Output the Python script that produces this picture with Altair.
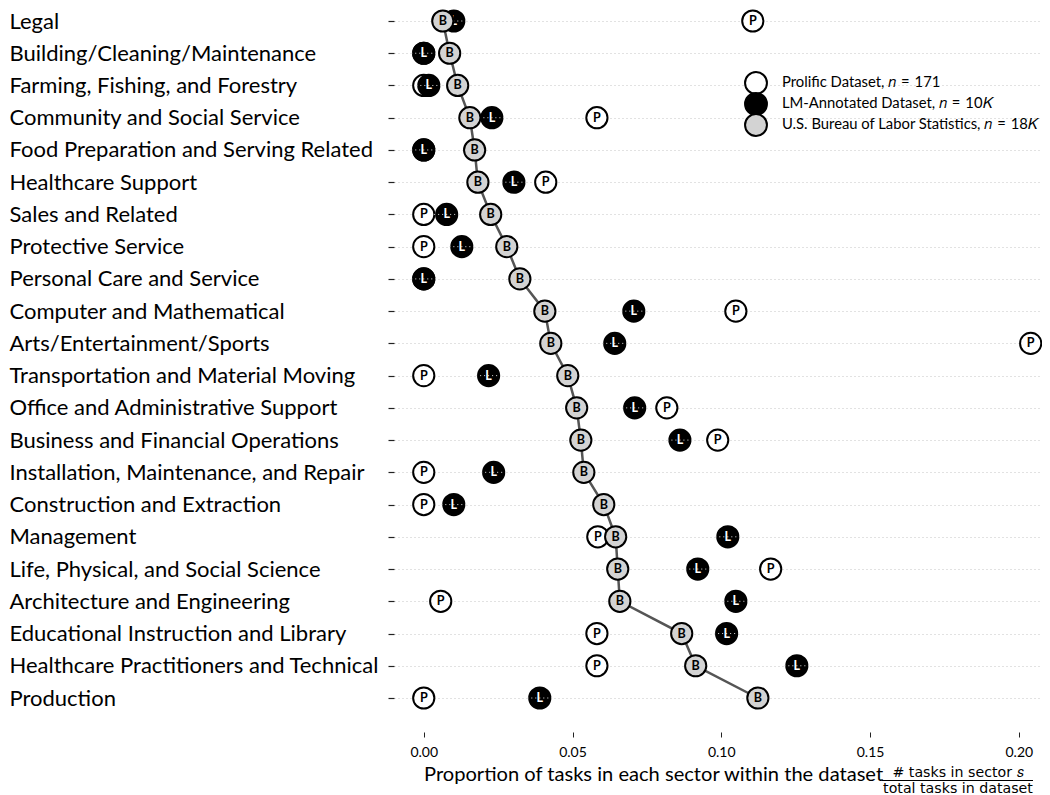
import altair as alt
import pandas as pd

categories = [
    "Legal",
    "Building/Cleaning/Maintenance",
    "Farming, Fishing, and Forestry",
    "Community and Social Service",
    "Food Preparation and Serving Related",
    "Healthcare Support",
    "Sales and Related",
    "Protective Service",
    "Personal Care and Service",
    "Computer and Mathematical",
    "Arts/Entertainment/Sports",
    "Transportation and Material Moving",
    "Office and Administrative Support",
    "Business and Financial Operations",
    "Installation, Maintenance, and Repair",
    "Construction and Extraction",
    "Management",
    "Life, Physical, and Social Science",
    "Architecture and Engineering",
    "Educational Instruction and Library",
    "Healthcare Practitioners and Technical",
    "Production",
]

# Prolific Dataset (P)
prolific = [0.1106, 0.0, 0.0, 0.0582, 0.0, 0.0410, 0.0, 0.0, 0.0, 0.1049, 0.2040,
            0.0, 0.0817, 0.0988, 0.0, 0.0, 0.0585, 0.1166, 0.0057, 0.0582, 0.0582, 0.0]
# LM-Annotated Dataset (L)
lm_annotated = [0.0101, 0.0, 0.0017, 0.0229, 0.0, 0.0303, 0.0077, 0.0128, 0.0, 0.0706, 0.0642,
                0.0218, 0.0709, 0.0861, 0.0235, 0.0101, 0.1022, 0.0921, 0.1049, 0.1018, 0.1254, 0.0390]
# U.S. Bureau of Labor Statistics (B)
bls = [0.0064, 0.0087, 0.0114, 0.0155, 0.0171, 0.0182, 0.0225, 0.0279, 0.0323, 0.0407, 0.0427,
       0.0484, 0.0514, 0.0528, 0.0538, 0.0605, 0.0645, 0.0652, 0.0659, 0.0867, 0.0914, 0.1123]

x_ticks = [0.0, 0.05, 0.10, 0.15, 0.20]

SP = "\u2004"
legend_labels = [
    f"Prolific Dataset, \U0001D45B{SP}={SP}171",
    f"LM-Annotated Dataset, \U0001D45B{SP}={SP}10\U0001D43E",
    f"U.S. Bureau of Labor Statistics, \U0001D45B{SP}={SP}18\U0001D43E",
]

rows = []
for i, c in enumerate(categories):
    rows.append({"cat": c, "idx": i, "src": "P", "val": prolific[i]})
    rows.append({"cat": c, "idx": i, "src": "L", "val": lm_annotated[i]})
    rows.append({"cat": c, "idx": i, "src": "B", "val": bls[i]})
df = pd.DataFrame(rows)

FONT = "Lato"
MATH = "DejaVu Sans"
xsc = alt.Scale(domain=[-0.01, 0.2078], nice=False, zero=False)
ysc = alt.Scale(type="point", domain=categories, range=[13, 690], padding=0)

x_axis = alt.Axis(values=x_ticks, format=".2f", title=None, grid=False, domain=False,
                  tickSize=5, tickColor="#222", tickWidth=1, labelFontSize=14,
                  labelPadding=8, labelFont=FONT, labelColor="black")
y_axis = alt.Axis(title=None, domain=False, tickSize=6, tickColor="#222", tickWidth=1.2,
                  labelAlign="left", labelPadding=379, labelFontSize=22, labelFont=FONT,
                  labelColor="black", labelBaseline="middle", labelLimit=0, grid=True,
                  gridDash=[1, 3], gridColor="#c4c4c4", gridWidth=1)

X = alt.X("val:Q", scale=xsc, axis=x_axis)
Y = alt.Y("cat:N", scale=ysc, sort=categories, axis=y_axis)

base = alt.Chart(df).encode(x=X, y=Y)

line = base.transform_filter("datum.src == 'B'").mark_line(
    color="#555555", strokeWidth=2.5).encode(order=alt.Order("idx:Q"))

def circles(src, fill, txt_color):
    sub = base.transform_filter(f"datum.src == '{src}'")
    c = sub.mark_point(shape="circle", filled=True, fill=fill, stroke="black",
                       strokeWidth=2, size=450, opacity=1)
    t = sub.mark_text(text=src, font=FONT, fontSize=12.5, fontWeight="bold",
                      color=txt_color, baseline="middle", align="center")
    return c, t

p_c, p_t = circles("P", "white", "black")
l_c, l_t = circles("L", "black", "white")
b_c, b_t = circles("B", "#d3d3d3", "black")

l_dots = base.transform_filter("datum.src == 'L'").transform_calculate(
    x1="datum.val - 0.0042", x2="datum.val + 0.0042"
).mark_rule(strokeDash=[1, 3], color="#dddddd", strokeWidth=1).encode(
    x=alt.X("x1:Q", scale=xsc, axis=x_axis), x2="x2:Q")

one = pd.DataFrame({"a": [0]})

def txt(s, x, y, size=16, font=FONT, align="left", baseline="middle"):
    return alt.Chart(one).mark_text(text=s, font=font, fontSize=size,
                                    align=align, baseline=baseline, color="black").encode(
        x=alt.value(x), y=alt.value(y))

def leg_circle(fill, y):
    return alt.Chart(one).mark_point(shape="circle", filled=True, fill=fill, stroke="black",
                                     strokeWidth=2, size=480, opacity=1).encode(
        x=alt.value(362), y=alt.value(y))

legend = [
    leg_circle("white", 75), leg_circle("black", 96), leg_circle("#d3d3d3", 117),
    txt(legend_labels[0], 388, 75, size=14.8),
    txt(legend_labels[1], 388, 96, size=14.8),
    txt(legend_labels[2], 388, 117, size=14.8),
]

xtitle = [
    txt("Proportion of tasks in each sector within the dataset", 30, 773, size=20.1,
        baseline="alphabetic"),
    txt("# tasks in sector \U0001D460", 564, 769, size=14.2, font=MATH, align="center",
        baseline="alphabetic"),
    alt.Chart(one).mark_rule(color="black", strokeWidth=1).encode(
        x=alt.value(488), x2=alt.value(639), y=alt.value(772.5)),
    txt("total tasks in dataset", 564, 785, size=14.2, font=MATH, align="center",
        baseline="alphabetic"),
]

chart = alt.layer(
    line, p_c, p_t, l_c, l_t, l_dots, b_c, b_t, *legend, *xtitle
).properties(
    width=648, height=724,
    autosize=alt.AutoSizeParams(type="none"),
    padding={"left": 386, "top": 0, "right": 0, "bottom": 63},
).configure_view(stroke=None)

chart.save("out.html", embed_options={"renderer": "svg", "actions": False})
